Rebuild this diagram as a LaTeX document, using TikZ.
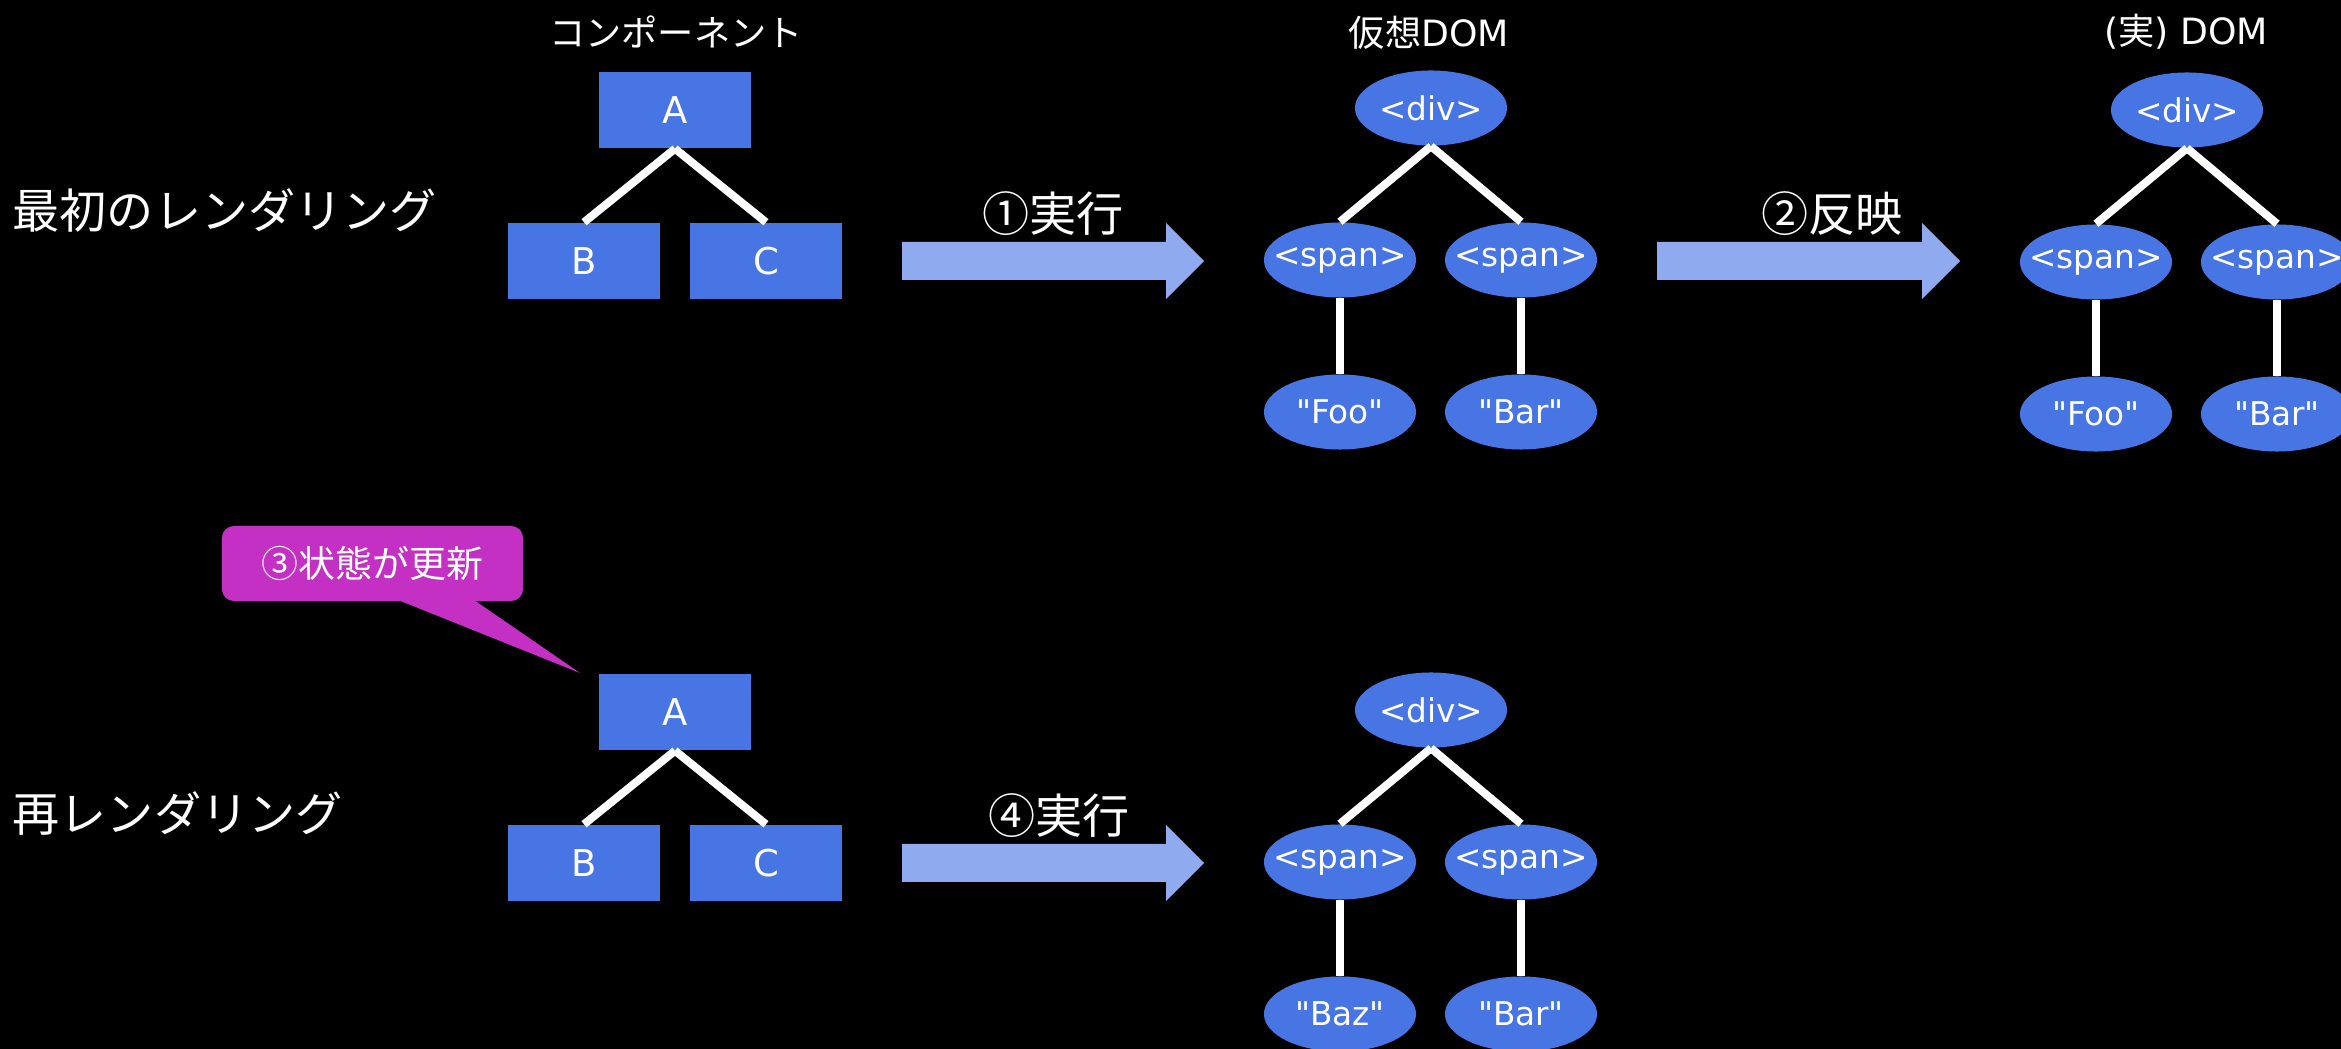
\documentclass[tikz,border=0pt]{standalone}
\usepackage{fontspec}
\setmainfont{DejaVu Sans}
\newfontfamily\lat{DejaVu Sans}
\newfontfamily\jp{Noto Sans CJK JP}
\usetikzlibrary{shapes.geometric}
\definecolor{nodeblue}{RGB}{72,117,228}
\definecolor{arrowblue}{RGB}{143,170,238}
\definecolor{calloutmag}{RGB}{196,48,196}
\begin{document}
\begin{tikzpicture}[x=0.01cm,y=-0.01cm,
  box/.style={rectangle, fill=nodeblue, minimum width=1.52cm, minimum height=0.76cm, inner sep=0, text=white, font=\lat\fontsize{10.5}{12}\selectfont},
  dom/.style={ellipse, fill=nodeblue, minimum width=1.52cm, minimum height=0.75cm, inner sep=0, text=white, font=\lat\fontsize{9.3}{11}\selectfont},
  edge/.style={draw=white, line width=0.08cm},
  title/.style={text=white, inner sep=0, font=\lat\fontsize{10.3}{12}\selectfont},
  biglabel/.style={text=white, inner sep=0, font=\jp\fontsize{13.4}{15}\selectfont},
  fatarrow/.style={fill=arrowblue},
  calloutbox/.style={rectangle, rounded corners=0.12cm, fill=calloutmag, minimum width=3.01cm, minimum height=0.75cm, inner sep=0, text=white, font=\jp\fontsize{10.5}{12}\selectfont}]
\useasboundingbox (0,0) rectangle (2341,1049);
\fill[black] (0,0) rectangle (2341,1049);

% titles
\node[title] (tcomp) at (676,32) {{\jp コンポーネント}};
\node[title] (tvdom) at (1429,33) {{\jp 仮想}DOM};
\node[title] (trdom) at (2186,32) {({\jp 実}) DOM};

% row labels
\node[biglabel, anchor=west] (row1) at (12,210) {最初のレンダリング};
\node[biglabel, anchor=west] (row2) at (12,814) {再レンダリング};

% ===== Row 1 =====
\node[box] (A1) at (675,110) {A};
\node[box] (B1) at (584,261) {B};
\node[box] (C1) at (766,261) {C};
\draw[edge] (A1.south) -- (B1.north);
\draw[edge] (A1.south) -- (C1.north);

\fill[fatarrow] (902,242) -- (1166,242) -- (1166,223) -- (1204,261) -- (1166,299) -- (1166,280) -- (902,280) -- cycle;
\node[biglabel] (lab1) at (1053,214) {①実行};

\node[dom] (vdiv1) at (1431,108) {\makebox[0pt]{<div>}};
\node[dom] (vspL1) at (1340,260) {\makebox[0pt]{<span>}};
\node[dom] (vspR1) at (1521,260) {\makebox[0pt]{<span>}};
\node[dom] (vfoo1) at (1340,412) {\makebox[0pt]{"Foo"}};
\node[dom] (vbar1) at (1521,412) {\makebox[0pt]{"Bar"}};
\draw[edge] (vdiv1.south) -- (vspL1.north);
\draw[edge] (vdiv1.south) -- (vspR1.north);
\draw[edge] (vspL1.south) -- (vfoo1.north);
\draw[edge] (vspR1.south) -- (vbar1.north);

\fill[fatarrow] (1657,242) -- (1922,242) -- (1922,223) -- (1960,261) -- (1922,299) -- (1922,280) -- (1657,280) -- cycle;
\node[biglabel] (lab2) at (1832,214) {②反映};

\node[dom] (rdiv) at (2187,110) {\makebox[0pt]{<div>}};
\node[dom] (rspL) at (2096,262) {\makebox[0pt]{<span>}};
\node[dom] (rspR) at (2277,262) {\makebox[0pt]{<span>}};
\node[dom] (rfoo) at (2096,414) {\makebox[0pt]{"Foo"}};
\node[dom] (rbar) at (2277,414) {\makebox[0pt]{"Bar"}};
\draw[edge] (rdiv.south) -- (rspL.north);
\draw[edge] (rdiv.south) -- (rspR.north);
\draw[edge] (rspL.south) -- (rfoo.north);
\draw[edge] (rspR.south) -- (rbar.north);

% ===== Row 2 =====
\node[calloutbox] (upd) at (372.5,563.5) {③状態が更新};
\coordinate (tip) at (580,673);
\fill[calloutmag] (398,600) -- (tip) -- (474,600) -- cycle;

\node[box] (A2) at (675,712) {A};
\node[box] (B2) at (584,863) {B};
\node[box] (C2) at (766,863) {C};
\draw[edge] (A2.south) -- (B2.north);
\draw[edge] (A2.south) -- (C2.north);

\fill[fatarrow] (902,844) -- (1166,844) -- (1166,825) -- (1204,863) -- (1166,901) -- (1166,882) -- (902,882) -- cycle;
\node[biglabel] (lab4) at (1059,816) {④実行};

\node[dom] (vdiv2) at (1431,710) {\makebox[0pt]{<div>}};
\node[dom] (vspL2) at (1340,862) {\makebox[0pt]{<span>}};
\node[dom] (vspR2) at (1521,862) {\makebox[0pt]{<span>}};
\node[dom] (vbaz2) at (1340,1014) {\makebox[0pt]{"Baz"}};
\node[dom] (vbar2) at (1521,1014) {\makebox[0pt]{"Bar"}};
\draw[edge] (vdiv2.south) -- (vspL2.north);
\draw[edge] (vdiv2.south) -- (vspR2.north);
\draw[edge] (vspL2.south) -- (vbaz2.north);
\draw[edge] (vspR2.south) -- (vbar2.north);
\end{tikzpicture}
\end{document}
